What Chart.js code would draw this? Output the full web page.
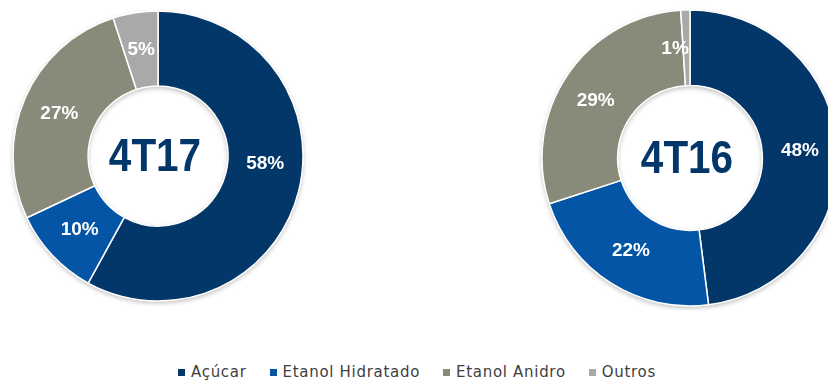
<!DOCTYPE html>
<html>
<head>
<meta charset="utf-8">
<script src="https://cdn.jsdelivr.net/npm/chart.js@4.4.1/dist/chart.umd.min.js"></script>
<style>
  body { margin: 0; background: #fff; }
  #page { position: relative; width: 828px; height: 380px; overflow: hidden; background: #fff; }
  .ring { position: absolute; }
  #legend {
    position: absolute; left: 0; width: 834px; top: 363px;
    display: flex; justify-content: center; gap: 23px;
    font-family: "DejaVu Sans", sans-serif; font-size: 15px; color: #404040;
    letter-spacing: 0.7px;
  }
  #legend span.box { display: inline-block; width: 7px; height: 7px; margin-right: 6px; vertical-align: 1px; }
</style>
</head>
<body>
<div id="page">
  <div class="ring" style="left:8px;top:6px;width:300px;height:300px"><canvas id="c4t17" width="300" height="300"></canvas></div>
  <div class="ring" style="left:538px;top:6px;width:304px;height:304px"><canvas id="c4t16" width="304" height="304"></canvas></div>
  <div id="legend"></div>
</div>
<script>
// categories and colours
const categories = ["Açúcar", "Etanol Hidratado", "Etanol Anidro", "Outros"];
const colors = ["#03376a", "#0455a5", "#8a8a7a", "#a9a9a9"];
// share of each category (%)
const values4T17 = [58, 10, 27, 5];
const values4T16 = [48, 22, 29, 1];
const periods = ["4T17", "4T16"];
// small nudges (degrees) of some labels, like in the original
const labelShift4T17 = [-10, 0, 0, 0];
const labelShift4T16 = [0, 0, -3, -6];

//soft grey shadow round the ring
const ringShadow = {
  id: "ringShadow",
  beforeDatasetsDraw(chart) {
    const arc = chart.getDatasetMeta(0).data[0];
    if (!arc) return;
    const ctx = chart.ctx;
    ctx.save();
    ctx.beginPath();
    ctx.arc(arc.x, arc.y, arc.outerRadius, 0, Math.PI * 2);
    ctx.arc(arc.x, arc.y, arc.innerRadius, 0, Math.PI * 2, true);
    ctx.fillStyle = "#ffffff";
    ctx.shadowColor = "rgba(0,0,0,0.28)";
    ctx.shadowBlur = 5;
    ctx.shadowOffsetY = 2;
    ctx.fill();
    ctx.restore();
  }
};

//percent labels inside slices + period in the hole
const ringLabels = {
  id: "ringLabels",
  afterDatasetsDraw(chart, args, opts) {
    const ctx = chart.ctx;
    const meta = chart.getDatasetMeta(0);
    const vals = chart.data.datasets[0].data;
    ctx.save();
    ctx.textAlign = "center";
    ctx.textBaseline = "middle";
    ctx.fillStyle = "#ffffff";
    ctx.font = "bold 19px 'Liberation Sans', Arial, sans-serif";
    meta.data.forEach((arc, i) => {
      const p = arc.getProps(["x", "y", "startAngle", "endAngle", "innerRadius", "outerRadius"], true);
      const mid = (p.startAngle + p.endAngle) / 2 + (opts.shift[i] || 0) * Math.PI / 180;
      const r = (p.innerRadius + p.outerRadius) / 2;
      ctx.fillText(vals[i] + "%", p.x + Math.cos(mid) * r, p.y + Math.sin(mid) * r);
    });
    const a = meta.data[0];
    //title in the hole, a bit narrower than the plain bold font
    ctx.translate(a.x - 3, a.y + 2);
    ctx.scale(0.88, 1);
    ctx.fillStyle = "#03376a";
    ctx.font = "bold 46px 'Liberation Sans', Arial, sans-serif";
    ctx.fillText(opts.title, 0, 0);
    ctx.restore();
  }
};

function makeRing(id, values, title, shift, radius, cutout) {
  return new Chart(document.getElementById(id), {
    type: "doughnut",
    plugins: [ringShadow, ringLabels],
    data: {
      labels: categories,
      datasets: [{
        data: values,
        backgroundColor: colors,
        borderColor: "#ffffff",
        borderWidth: 1.5
      }]
    },
    options: {
      responsive: false,
      animation: false,
      radius: radius,
      cutout: cutout,
      layout: { padding: 0 },
      plugins: {
        legend: { display: false },
        tooltip: { enabled: false },
        ringLabels: { title: title, shift: shift }
      }
    }
  });
}

makeRing("c4t17", values4T17, periods[0], labelShift4T17, 145, 72);
makeRing("c4t16", values4T16, periods[1], labelShift4T16, 148, 74);

//legend at bottom
const legend = document.getElementById("legend");
categories.forEach((name, i) => {
  const item = document.createElement("div");
  item.innerHTML = '<span class="box" style="background:' + colors[i] + '"></span>' + name;
  legend.appendChild(item);
});
</script>
</body>
</html>
